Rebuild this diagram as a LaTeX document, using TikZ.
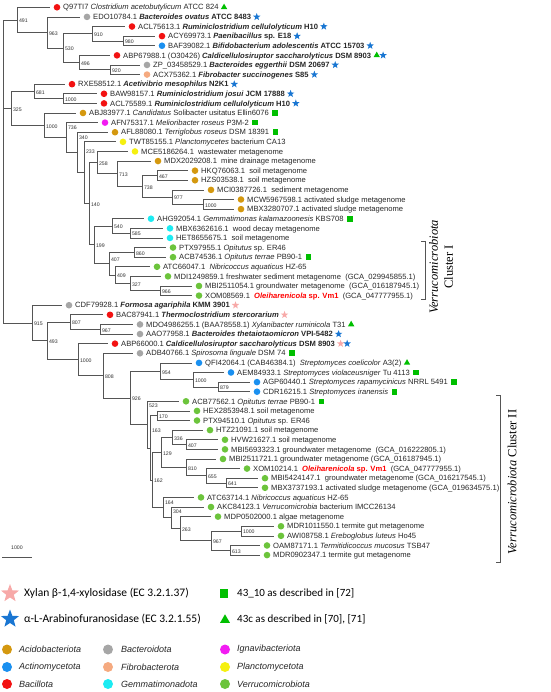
\documentclass[tikz,border=0pt]{standalone}
\usepackage{fontspec}
\setmainfont{Liberation Sans}
\newfontfamily\calibri{Carlito}
\newfontfamily\serifrm{Liberation Serif}
\usetikzlibrary{positioning,shapes.geometric}

\definecolor{acido}{HTML}{D4980F}
\definecolor{actino}{HTML}{1A90F0}
\definecolor{bacil}{HTML}{F21212}
\definecolor{bactero}{HTML}{A6A6A6}
\definecolor{fibro}{HTML}{F5AA80}
\definecolor{gemma}{HTML}{1CEBF2}
\definecolor{ignavi}{HTML}{F21CF2}
\definecolor{plancto}{HTML}{F5F010}
\definecolor{verruco}{HTML}{6CC43C}
\definecolor{starblue}{HTML}{1976D2}
\definecolor{starpink}{HTML}{F7A9A8}
\definecolor{ghgreen}{HTML}{00BF00}
\definecolor{branch}{HTML}{555555}

\tikzset{
  br/.style={draw=branch, line width=0.7pt},
  bs/.style={anchor=west, inner sep=0pt, xshift=1.8pt, yshift=-1pt,
    font=\fontsize{5.2}{6}\selectfont, text=black!80},
  tipdot/.style={circle, inner sep=0pt, minimum size=6.6pt, outer sep=3.7pt},
  leaf/.style={anchor=west, inner sep=0.5pt, text height=5.4pt, text depth=0pt,
    font=\fontsize{7.6}{8}\selectfont, text=black!85},
  bstar/.style={star, star points=5, star point ratio=2.4, fill=starblue,
    inner sep=0pt, minimum size=7.8pt},
  pstar/.style={bstar, fill=starpink},
  gsq/.style={rectangle, fill=ghgreen, inner sep=0pt, minimum size=5.6pt},
  gtri/.style={regular polygon, regular polygon sides=3, fill=ghgreen,
    inner sep=0pt, minimum size=7.4pt},
  legtxt/.style={anchor=west, inner sep=0pt, font=\calibri\fontsize{11.5}{13}\selectfont},
  phyl/.style={anchor=west, inner sep=0pt, font=\itshape\fontsize{9}{11}\selectfont, text=black!85},
  legdot/.style={circle, inner sep=0pt, minimum size=10pt},
  clus/.style={rotate=90, align=center, font=\serifrm\fontsize{12.5}{15}\selectfont},
}

\begin{document}
\begin{tikzpicture}[x=1pt, y=-1pt]
\useasboundingbox (0,0) rectangle (550,692);

\begin{scope}[y=-9.61pt, yshift=2.31pt]
% inner nodes (x in px, y in rows)
\coordinate (root) at (3,18.083);
\coordinate (n491) at (17,2.3125);
\coordinate (n963) at (47,3.625);
\coordinate (n530) at (63,5.25);
\coordinate (n910) at (92,3.75);
\coordinate (n980) at (123,4.5);
\coordinate (n496) at (79,6.75);
\coordinate (n920) at (110,7.5);
\coordinate (n325) at (11,11.514);
\coordinate (n681) at (34,9.75);
\coordinate (n1000a) at (63,10.5);
\coordinate (n1000b) at (44,13.277);
\coordinate (n736) at (66,14.555);
\coordinate (n340) at (77,16.109);
\coordinate (n233) at (84,18.219);
\coordinate (n140) at (89,21.4375);
\coordinate (n258) at (97,17.156);
\coordinate (n713) at (117,18.3125);
\coordinate (n738) at (142,19.625);
\coordinate (n467) at (157,18.5);
\coordinate (n977) at (172,20.75);
\coordinate (n1000c) at (203,21.5);
\coordinate (n199) at (94,25.719);
\coordinate (n540) at (112,23.75);
\coordinate (n585) at (130,24.5);
\coordinate (n407) at (109,27.6875);
\coordinate (n860) at (134,26.5);
\coordinate (n409) at (115,28.875);
\coordinate (n327) at (130,29.75);
\coordinate (n966) at (160,30.5);
\coordinate (n915) at (32,33.853);
\coordinate (n493) at (47,35.706);
\coordinate (n807) at (70,33.75);
\coordinate (n967a) at (100,34.5);
\coordinate (n1000f) at (78,37.662);
\coordinate (n808) at (103,39.324);
\coordinate (n926) at (130,41.648);
\coordinate (n954) at (160,38.875);
\coordinate (n1000d) at (193,39.75);
\coordinate (n879) at (218,40.5);
\coordinate (n523) at (147,44.422);
\coordinate (n163) at (150,46.844);
\coordinate (n170) at (157,43.5);
\coordinate (n162) at (152,50.1875);
\coordinate (n129) at (161,47.3125);
\coordinate (n336) at (172,45.75);
\coordinate (n407b) at (186,46.5);
\coordinate (n810) at (186,48.875);
\coordinate (n655) at (206,49.75);
\coordinate (n641) at (226,50.5);
\coordinate (n164) at (163,53.0625);
\coordinate (n304) at (171,54.125);
\coordinate (n263) at (180,55.25);
\coordinate (n967b) at (211,56.5);
\coordinate (n1000e) at (241,55.5);
\coordinate (n613) at (230,57.5);

% leaves
\node[tipdot, fill=bacil] (d1) at (57,1) {};
\node[leaf, right=-1.5pt of d1] (t1) {Q97TI7 \textit{Clostridium acetobutylicum} ATCC 824};
\node[gtri, right=2.5pt of t1] {};
\node[tipdot, fill=bactero] (d2) at (87,2) {};
\node[leaf, right=-1.5pt of d2] (t2) {EDO10784.1 \textbf{\textit{Bacteroides ovatus} ATCC 8483}};
\node[bstar, right=2.5pt of t2] {};
\node[tipdot, fill=bacil] (d3) at (132,3) {};
\node[leaf, right=-1.5pt of d3] (t3) {ACL75613.1 \textbf{\textit{Ruminiclostridium cellulolyticum} H10}};
\node[bstar, right=2.5pt of t3] {};
\node[tipdot, fill=bacil] (d4) at (162,4) {};
\node[leaf, right=-1.5pt of d4] (t4) {ACY69973.1 \textbf{\textit{Paenibacillus} sp. E18}};
\node[bstar, right=2.5pt of t4] {};
\node[tipdot, fill=actino] (d5) at (162,5) {};
\node[leaf, right=-1.5pt of d5] (t5) {BAF39082.1 \textbf{\textit{Bifidobacterium adolescentis} ATCC 15703}};
\node[bstar, right=2.5pt of t5] {};
\node[tipdot, fill=bacil] (d6) at (117,6) {};
\node[leaf, right=-1.5pt of d6] (t6) {ABP67988.1 (O30426) \textbf{\textit{Caldicellulosiruptor saccharolyticus} DSM 8903}};
\node[gtri, right=2.5pt of t6] (s6) {};
\node[bstar, right=1.5pt of s6] {};
\node[tipdot, fill=bactero] (d7) at (147,7) {};
\node[leaf, right=-1.5pt of d7] (t7) {ZP\_03458529.1 \textbf{\textit{Bacteroides eggerthii} DSM 20697}};
\node[bstar, right=2.5pt of t7] {};
\node[tipdot, fill=fibro] (d8) at (147,8) {};
\node[leaf, right=-1.5pt of d8] (t8) {ACX75362.1 \textbf{\textit{Fibrobacter succinogenes} S85}};
\node[bstar, right=2.5pt of t8] {};
\node[tipdot, fill=bacil] (d9) at (72,9) {};
\node[leaf, right=-1.5pt of d9] (t9) {RXE58512.1 \textbf{\textit{Acetivibrio mesophilus} N2K1}};
\node[bstar, right=2.5pt of t9] {};
\node[tipdot, fill=bacil] (d10) at (104,10) {};
\node[leaf, right=-1.5pt of d10] (t10) {BAW98157.1 \textbf{\textit{Ruminiclostridium josui} JCM 17888}};
\node[bstar, right=2.5pt of t10] {};
\node[tipdot, fill=bacil] (d11) at (104,11) {};
\node[leaf, right=-1.5pt of d11] (t11) {ACL75589.1 \textbf{\textit{Ruminiclostridium cellulolyticum} H10}};
\node[bstar, right=2.5pt of t11] {};
\node[tipdot, fill=acido] (d12) at (83,12) {};
\node[leaf, right=-1.5pt of d12] (t12) {ABJ83977.1 \textit{Candidatus} Solibacter usitatus Ellin6076};
\node[gsq, right=2.5pt of t12] {};
\node[tipdot, fill=ignavi] (d13) at (105,13) {};
\node[leaf, right=-1.5pt of d13] (t13) {AFN75317.1 \textit{Melioribacter roseus} P3M-2};
\node[gsq, right=2.5pt of t13] {};
\node[tipdot, fill=acido] (d14) at (115,14) {};
\node[leaf, right=-1.5pt of d14] (t14) {AFL88080.1 \textit{Terriglobus roseus} DSM 18391};
\node[gsq, right=2.5pt of t14] {};
\node[tipdot, fill=plancto] (d15) at (123,15) {};
\node[leaf, right=-1.5pt of d15] (t15) {TWT85155.1 \textit{Planctomycetes} bacterium CA13};
\node[tipdot, fill=plancto] (d16) at (135,16) {};
\node[leaf, right=-1.5pt of d16] (t16) {MCE5186264.1 ~wastewater metagenome};
\node[tipdot, fill=acido] (d17) at (158,17) {};
\node[leaf, right=-1.5pt of d17] (t17) {MDX2029208.1 ~mine drainage metagenome};
\node[tipdot, fill=acido] (d18) at (195,18) {};
\node[leaf, right=-1.5pt of d18] (t18) {HKQ76063.1 ~soil metagenome};
\node[tipdot, fill=acido] (d19) at (195,19) {};
\node[leaf, right=-1.5pt of d19] (t19) {HZS03538.1 ~soil metagenome};
\node[tipdot, fill=acido] (d20) at (211,20) {};
\node[leaf, right=-1.5pt of d20] (t20) {MCI0387726.1 ~sediment metagenome};
\node[tipdot, fill=acido] (d21) at (241,21) {};
\node[leaf, right=-1.5pt of d21] (t21) {MCW5967598.1 activated sludge metagenome};
\node[tipdot, fill=acido] (d22) at (241,22) {};
\node[leaf, right=-1.5pt of d22] (t22) {MBX3280707.1 activated sludge metagenome};
\node[tipdot, fill=gemma] (d23) at (151,23) {};
\node[leaf, right=-1.5pt of d23] (t23) {AHG92054.1 \textit{Gemmatimonas kalamazoonesis} KBS708};
\node[gsq, right=2.5pt of t23] {};
\node[tipdot, fill=gemma] (d24) at (170,24) {};
\node[leaf, right=-1.5pt of d24] (t24) {MBX6362616.1 ~wood decay metagenome};
\node[tipdot, fill=gemma] (d25) at (170,25) {};
\node[leaf, right=-1.5pt of d25] (t25) {HET8655675.1 ~soil metagenome};
\node[tipdot, fill=verruco] (d26) at (173,26) {};
\node[leaf, right=-1.5pt of d26] (t26) {PTX97955.1 \textit{Opitutus} sp. ER46};
\node[tipdot, fill=verruco] (d27) at (173,27) {};
\node[leaf, right=-1.5pt of d27] (t27) {ACB74536.1 \textit{Opitutus terrae} PB90-1};
\node[gsq, right=2.5pt of t27] {};
\node[tipdot, fill=verruco] (d28) at (157,28) {};
\node[leaf, right=-1.5pt of d28] (t28) {ATC66047.1 ~\textit{Nibricoccus aquaticus} HZ-65};
\node[tipdot, fill=verruco] (d29) at (168,29) {};
\node[leaf, right=-1.5pt of d29] (t29) {MDI1249859.1 freshwater sediment metagenome ~(GCA\_029945855.1)};
\node[tipdot, fill=verruco] (d30) at (199,30) {};
\node[leaf, right=-1.5pt of d30] (t30) {MBI2511054.1 groundwater metagenome ~(GCA\_016187945.1)};
\node[tipdot, fill=verruco] (d31) at (199,31) {};
\node[leaf, right=-1.5pt of d31] (t31) {XOM08569.1 ~\textcolor{red}{\textbf{\textit{Oleiharenicola} sp. Vm1}} ~(GCA\_047777955.1)};
\node[tipdot, fill=bactero] (d32) at (69,32) {};
\node[leaf, right=-1.5pt of d32] (t32) {CDF79928.1 \textbf{\textit{Formosa agariphila} KMM 3901}};
\node[pstar, right=2.5pt of t32] {};
\node[tipdot, fill=bacil] (d33) at (110,33) {};
\node[leaf, right=-1.5pt of d33] (t33) {BAC87941.1 \textbf{\textit{Thermoclostridium stercorarium}}};
\node[pstar, right=2.5pt of t33] {};
\node[tipdot, fill=bactero] (d34) at (140,34) {};
\node[leaf, right=-1.5pt of d34] (t34) {MDO4986255.1 (BAA78558.1) \textit{Xylanibacter ruminicola} T31};
\node[gtri, right=2.5pt of t34] {};
\node[tipdot, fill=bactero] (d35) at (140,35) {};
\node[leaf, right=-1.5pt of d35] (t35) {AAO77958.1 \textbf{\textit{Bacteroides thetaiotaomicron} VPI-5482}};
\node[bstar, right=2.5pt of t35] {};
\node[tipdot, fill=bacil] (d36) at (115,36) {};
\node[leaf, right=-1.5pt of d36] (t36) {ABP66000.1 \textbf{\textit{Caldicellulosiruptor saccharolyticus} DSM 8903}};
\node[pstar, right=2.5pt of t36] (s36) {};
\node[bstar, right=1.5pt of s36] {};
\node[tipdot, fill=bactero] (d37) at (140,37) {};
\node[leaf, right=-1.5pt of d37] (t37) {ADB40766.1 \textit{Spirosoma linguale} DSM 74};
\node[gsq, right=2.5pt of t37] {};
\node[tipdot, fill=actino] (d38) at (199,38) {};
\node[leaf, right=-1.5pt of d38] (t38) {QFI42064.1 (CAB46384.1) ~\textit{Streptomyces coelicolor} A3(2)};
\node[gtri, right=2.5pt of t38] {};
\node[tipdot, fill=actino] (d39) at (231,39) {};
\node[leaf, right=-1.5pt of d39] (t39) {AEM84933.1 \textit{Streptomyces violaceusniger} Tu 4113};
\node[gsq, right=2.5pt of t39] {};
\node[tipdot, fill=actino] (d40) at (257,40) {};
\node[leaf, right=-1.5pt of d40] (t40) {AGP60440.1 \textit{Streptomyces rapamycinicus} NRRL 5491};
\node[gsq, right=2.5pt of t40] {};
\node[tipdot, fill=actino] (d41) at (257,41) {};
\node[leaf, right=-1.5pt of d41] (t41) {CDR16215.1 \textit{Streptomyces iranensis}};
\node[gsq, right=2.5pt of t41] {};
\node[tipdot, fill=verruco] (d42) at (186,42) {};
\node[leaf, right=-1.5pt of d42] (t42) {ACB77562.1 \textit{Opitutus terrae} PB90-1};
\node[gsq, right=2.5pt of t42] {};
\node[tipdot, fill=verruco] (d43) at (197,43) {};
\node[leaf, right=-1.5pt of d43] (t43) {HEX2853948.1 soil metagenome};
\node[tipdot, fill=verruco] (d44) at (197,44) {};
\node[leaf, right=-1.5pt of d44] (t44) {PTX94510.1 \textit{Opitutus} sp. ER46};
\node[tipdot, fill=verruco] (d45) at (210,45) {};
\node[leaf, right=-1.5pt of d45] (t45) {HTZ21091.1 soil metagenome};
\node[tipdot, fill=verruco] (d46) at (225,46) {};
\node[leaf, right=-1.5pt of d46] (t46) {HVW21627.1 soil metagenome};
\node[tipdot, fill=verruco] (d47) at (225,47) {};
\node[leaf, right=-1.5pt of d47] (t47) {MBI5693323.1 groundwater metagenome ~(GCA\_016222805.1)};
\node[tipdot, fill=verruco] (d48) at (223,48) {};
\node[leaf, right=-1.5pt of d48] (t48) {MBI2511721.1 groundwater metagenome (GCA\_016187945.1)};
\node[tipdot, fill=verruco] (d49) at (247,49) {};
\node[leaf, right=-1.5pt of d49] (t49) {XOM10214.1 ~\textcolor{red}{\textbf{\textit{Oleiharenicola} sp. Vm1}} ~(GCA\_047777955.1)};
\node[tipdot, fill=verruco] (d50) at (265,50) {};
\node[leaf, right=-1.5pt of d50] (t50) {MBI5424147.1 ~groundwater metagenome (GCA\_016217545.1)};
\node[tipdot, fill=verruco] (d51) at (265,51) {};
\node[leaf, right=-1.5pt of d51] (t51) {MBX3737193.1 activated sludge metagenome (GCA\_019634575.1)};
\node[tipdot, fill=verruco] (d52) at (201,52) {};
\node[leaf, right=-1.5pt of d52] (t52) {ATC63714.1 \textit{Nibricoccus aquaticus} HZ-65};
\node[tipdot, fill=verruco] (d53) at (211,53) {};
\node[leaf, right=-1.5pt of d53] (t53) {AKC84123.1 \textit{Verrucomicrobia} bacterium IMCC26134};
\node[tipdot, fill=verruco] (d54) at (218,54) {};
\node[leaf, right=-1.5pt of d54] (t54) {MDP0502000.1 algae metagenome};
\node[tipdot, fill=verruco] (d55) at (281,55) {};
\node[leaf, right=-1.5pt of d55] (t55) {MDR1011550.1 termite gut metagenome};
\node[tipdot, fill=verruco] (d56) at (281,56) {};
\node[leaf, right=-1.5pt of d56] (t56) {AWI08758.1 \textit{Ereboglobus luteus} Ho45};
\node[tipdot, fill=verruco] (d57) at (267,57) {};
\node[leaf, right=-1.5pt of d57] (t57) {OAM87171.1 \textit{Termitidicoccus mucosus} TSB47};
\node[tipdot, fill=verruco] (d58) at (267,58) {};
\node[leaf, right=-1.5pt of d58] (t58) {MDR0902347.1 termite gut metagenome};

% branches
\draw[br] (root) |- (n491) (root) |- (n325) (root) |- (n915);
\draw[br] (n491) |- (d1) (n491) |- (n963);
\draw[br] (n963) |- (d2) (n963) |- (n530);
\draw[br] (n530) |- (n910) (n530) |- (n496);
\draw[br] (n910) |- (d3) (n910) |- (n980);
\draw[br] (n980) |- (d4) (n980) |- (d5);
\draw[br] (n496) |- (d6) (n496) |- (n920);
\draw[br] (n920) |- (d7) (n920) |- (d8);
\draw[br] (n325) |- (n681) (n325) |- (n1000b);
\draw[br] (n681) |- (d9) (n681) |- (n1000a);
\draw[br] (n1000a) |- (d10) (n1000a) |- (d11);
\draw[br] (n1000b) |- (d12) (n1000b) |- (n736);
\draw[br] (n736) |- (d13) (n736) |- (n340);
\draw[br] (n340) |- (d14) (n340) |- (n233);
\draw[br] (n233) |- (d15) (n233) |- (n140);
\draw[br] (n140) |- (n258) (n140) |- (n199);
\draw[br] (n258) |- (d16) (n258) |- (n713);
\draw[br] (n713) |- (d17) (n713) |- (n738);
\draw[br] (n738) |- (n467) (n738) |- (n977);
\draw[br] (n467) |- (d18) (n467) |- (d19);
\draw[br] (n977) |- (d20) (n977) |- (n1000c);
\draw[br] (n1000c) |- (d21) (n1000c) |- (d22);
\draw[br] (n199) |- (n540) (n199) |- (n407);
\draw[br] (n540) |- (d23) (n540) |- (n585);
\draw[br] (n585) |- (d24) (n585) |- (d25);
\draw[br] (n407) |- (n860) (n407) |- (n409);
\draw[br] (n860) |- (d26) (n860) |- (d27);
\draw[br] (n409) |- (d28) (n409) |- (n327);
\draw[br] (n327) |- (d29) (n327) |- (n966);
\draw[br] (n966) |- (d30) (n966) |- (d31);
\draw[br] (n915) |- (d32) (n915) |- (n493);
\draw[br] (n493) |- (n807) (n493) |- (n1000f);
\draw[br] (n807) |- (d33) (n807) |- (n967a);
\draw[br] (n967a) |- (d34) (n967a) |- (d35);
\draw[br] (n1000f) |- (d36) (n1000f) |- (n808);
\draw[br] (n808) |- (d37) (n808) |- (n926);
\draw[br] (n926) |- (n954) (n926) |- (n523);
\draw[br] (n954) |- (d38) (n954) |- (n1000d);
\draw[br] (n1000d) |- (d39) (n1000d) |- (n879);
\draw[br] (n879) |- (d40) (n879) |- (d41);
\draw[br] (n523) |- (d42) (n523) |- (n163);
\draw[br] (n163) |- (n170) (n163) |- (n162);
\draw[br] (n170) |- (d43) (n170) |- (d44);
\draw[br] (n162) |- (n129) (n162) |- (n164);
\draw[br] (n129) |- (n336) (n129) |- (n810);
\draw[br] (n336) |- (d45) (n336) |- (n407b);
\draw[br] (n407b) |- (d46) (n407b) |- (d47);
\draw[br] (n810) |- (d48) (n810) |- (n655);
\draw[br] (n655) |- (d49) (n655) |- (n641);
\draw[br] (n641) |- (d50) (n641) |- (d51);
\draw[br] (n164) |- (d52) (n164) |- (n304);
\draw[br] (n304) |- (d53) (n304) |- (n263);
\draw[br] (n263) |- (d54) (n263) |- (n967b);
\draw[br] (n967b) |- (n1000e) (n967b) |- (n613);
\draw[br] (n1000e) |- (d55) (n1000e) |- (d56);
\draw[br] (n613) |- (d57) (n613) |- (d58);

% bootstrap values
\node[bs] at (n491) {491};
\node[bs] at (n963) {963};
\node[bs] at (n530) {530};
\node[bs] at (n910) {910};
\node[bs] at (n980) {980};
\node[bs] at (n496) {496};
\node[bs] at (n920) {920};
\node[bs] at (n325) {325};
\node[bs] at (n681) {681};
\node[bs] at (n1000a) {1000};
\node[bs] at (n1000b) {1000};
\node[bs] at (66,13.45) {736};
\node[bs] at (77,14.5) {340};
\node[bs] at (84,15.95) {233};
\node[bs] at (n140) {140};
\node[bs] at (n258) {258};
\node[bs] at (n713) {713};
\node[bs] at (n738) {738};
\node[bs] at (n467) {467};
\node[bs] at (n977) {977};
\node[bs] at (n1000c) {1000};
\node[bs] at (n199) {199};
\node[bs] at (n540) {540};
\node[bs] at (n585) {585};
\node[bs] at (109,27.19) {407};
\node[bs] at (n860) {860};
\node[bs] at (n409) {409};
\node[bs] at (n327) {327};
\node[bs] at (n966) {966};
\node[bs] at (n915) {915};
\node[bs] at (n493) {493};
\node[bs] at (n807) {807};
\node[bs] at (n967a) {967};
\node[bs] at (n1000f) {1000};
\node[bs] at (n808) {808};
\node[bs] at (n926) {926};
\node[bs] at (n954) {954};
\node[bs] at (n1000d) {1000};
\node[bs] at (n879) {879};
\node[bs] at (147,42.38) {523};
\node[bs] at (150,44.98) {163};
\node[bs] at (n170) {170};
\node[bs] at (n162) {162};
\node[bs] at (n129) {129};
\node[bs] at (n336) {336};
\node[bs] at (n407b) {407};
\node[bs] at (n810) {810};
\node[bs] at (n655) {655};
\node[bs] at (n641) {641};
\node[bs] at (163,52.48) {164};
\node[bs] at (171,53.41) {304};
\node[bs] at (n263) {263};
\node[bs] at (n967b) {967};
\node[bs] at (n1000e) {1000};
\node[bs] at (n613) {613};
\end{scope}

% clusters
\draw[br] (421,241) -- (425,241) -- (425,299) -- (421,299);
\node[clus] (cl1) at (441,267) {\textit{Verrucomicrobiota}\\Cluster I};
\draw[br] (496,395) -- (500,395) -- (500,562) -- (496,562);
\node[clus] (cl2) at (512,482) {\textit{Verrucomicrobiota} Cluster II};

% scale bar
\draw[br] (2,557) -- (32,557);
\node[font=\fontsize{5.2}{6}\selectfont, text=black!80] (sc) at (17,548) {1000};

% legend
\node[pstar, minimum size=19pt] (kxyl) at (10,593.5) {};
\node[legtxt] (txyl) at (24,593.5) {Xylan β-1,4-xylosidase (EC 3.2.1.37)};
\node[bstar, minimum size=19pt] (kara) at (10,619) {};
\node[legtxt] (tara) at (24,619) {α-L-Arabinofuranosidase (EC 3.2.1.55)};
\node[gsq, minimum size=8.3pt] (ksq) at (224,593.5) {};
\node[legtxt, font=\calibri\fontsize{11}{13}\selectfont] (tsq) at (237,593.5) {43\_10 as described in [72]};
\node[gtri, minimum size=11.5pt] (ktri) at (225,620) {};
\node[legtxt, font=\calibri\fontsize{11}{13}\selectfont] (ttri) at (237,619) {43c as described in [70], [71]};

\node[legdot, fill=acido] (p1) at (7,649.5) {};
\node[phyl] at (19,649.5) {Acidobacteriota};
\node[legdot, fill=actino] (p2) at (7,667) {};
\node[phyl] at (19,667) {Actinomycetota};
\node[legdot, fill=bacil] (p3) at (7,684) {};
\node[phyl] at (19,684) {Bacillota};
\node[legdot, fill=bactero] (p4) at (108,649.5) {};
\node[phyl] at (121,649.5) {Bacteroidota};
\node[legdot, fill=fibro] (p5) at (108,667) {};
\node[phyl] at (121,667) {Fibrobacterota};
\node[legdot, fill=gemma] (p6) at (108,684) {};
\node[phyl] at (121,684) {Gemmatimonadota};
\node[legdot, fill=ignavi] (p7) at (225,649.5) {};
\node[phyl] at (237,649.5) {Ignavibacteriota};
\node[legdot, fill=plancto] (p8) at (225,667) {};
\node[phyl] at (237,667) {Planctomycetota};
\node[legdot, fill=verruco] (p9) at (225,684) {};
\node[phyl] at (237,684) {Verrucomicrobiota};
\end{tikzpicture}
\end{document}
